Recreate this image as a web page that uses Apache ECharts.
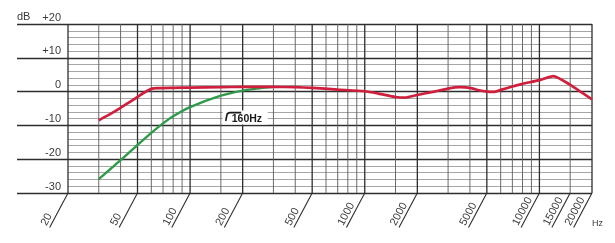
<!DOCTYPE html>
<html>
<head>
<meta charset="utf-8">
<script src="https://cdn.jsdelivr.net/npm/echarts@6/dist/echarts.min.js"></script>
<style>
html,body{margin:0;padding:0;background:#fff;}
#c{width:615px;height:243px;}
</style>
</head>
<body>
<div id="c"></div>
<script>
// ---- data ----
const gridFreqs = [20,30,40,50,60,70,80,90,100,150,200,300,400,500,600,700,800,900,1000,1500,2000,3000,4000,5000,6000,7000,8000,9000,10000,15000,20000];
const majorFreqs = [20,50,100,200,500,1000,2000,5000,10000,20000];
const labelFreqs = [20,50,100,200,500,1000,2000,5000,10000,15000,20000];
const yMin = -30, yMax = 20, yStep = 10;
const redFreq = [30,35,40,45,50,55,60,65,80,100,150,200,300,400,500,700,1000,1200,1500,1700,2000,2500,3000,3500,4000,4500,5000,5500,6000,7000,8000,10000,12000,15000,20000];
const redDb   = [-8.5,-6.6,-4.8,-3.1,-1.6,-0.2,0.8,1.0,1.1,1.2,1.3,1.4,1.4,1.3,1.1,0.6,0.1,-0.6,-1.6,-1.8,-1.0,0.0,0.9,1.3,1.1,0.4,0.0,-0.1,0.5,1.5,2.3,3.4,4.6,2.0,-2.3];
const greenFreq = [30,35,40,45,50,60,70,80,100,150,200,250,300];
const greenDb   = [-25.9,-22.9,-20.3,-17.9,-15.8,-12.2,-9.4,-7.3,-4.6,-1.2,0.3,1.0,1.4];
const annotFreq = 160, annotDb = -8.7, annotText = '160Hz';
const yName = 'dB', xName = 'Hz';

const FONT = '"Liberation Sans", Arial, Helvetica, sans-serif';
const MAJ = '#2e2e2e', MIN_V = '#5a5a5a', MIN_H = '#a6a6a6';
const SLOPE = 62 * Math.PI / 180;

const chart = echarts.init(document.getElementById('c'), null, {renderer: 'canvas'});

const zip = (a, b) => a.map((v, i) => [v, b[i]]);

chart.setOption({
  backgroundColor: '#fff',
  animation: false,
  grid: {left: 68, right: 23, top: 24, bottom: 50, containLabel: false, outerBoundsMode: 'none'},
  xAxis: {
    type: 'log', logBase: 10, min: 20, max: 20000,
    axisLine: {show: false}, axisTick: {show: false}, axisLabel: {show: false},
    splitLine: {show: false}, minorSplitLine: {show: false}
  },
  yAxis: {
    type: 'value', min: yMin, max: yMax, interval: yStep,
    axisLine: {show: false},
    axisTick: {show: true, inside: false, length: 51, lineStyle: {color: MAJ, width: 1.3}},
    axisLabel: {
      show: true, margin: 7, color: '#3a3a3a', fontFamily: FONT, fontSize: 11,
      verticalAlign: 'bottom', padding: [0, 0, 1, 0],
      formatter: v => (v > 0 ? '+' + v : String(v))
    },
    splitLine: {show: true, lineStyle: {color: MAJ, width: 1.3}},
    minorTick: {show: false, splitNumber: 5},
    minorSplitLine: {show: true, lineStyle: {color: MIN_H, width: 1}}
  },
  series: [
    {
      type: 'custom', name: 'vgrid', silent: true, z: 1,
      data: gridFreqs.map(f => [f, majorFreqs.indexOf(f) >= 0 ? 1 : 0]),
      renderItem: (params, api) => {
        const f = api.value(0), major = api.value(1) === 1;
        const p1 = api.coord([f, yMax]), p2 = api.coord([f, yMin]);
        return {type: 'line', shape: {x1: p1[0], y1: p1[1], x2: p2[0], y2: p2[1]},
          style: {stroke: major ? MAJ : MIN_V, lineWidth: major ? 1.3 : 0.9}};
      }
    },
    {
      type: 'custom', name: 'xlabels', silent: true, clip: false, z: 1,
      data: labelFreqs.map(f => [f, yMin]),
      renderItem: (params, api) => {
        const p = api.coord([api.value(0), api.value(1)]);
        const dy = 34.5, dx = dy / Math.tan(SLOPE);
        const bx = p[0] - dx, by = p[1] + dy;
        return {type: 'group', children: [
          {type: 'line', shape: {x1: p[0], y1: p[1], x2: bx, y2: by},
            style: {stroke: MAJ, lineWidth: 1.1}},
          {type: 'text', x: bx - 1, y: by, rotation: SLOPE,
            style: {text: String(labelFreqs[params.dataIndex]), fill: '#3a3a3a',
              font: '11px ' + FONT, align: 'left', verticalAlign: 'bottom',
              textAlign: 'left', textVerticalAlign: 'bottom'}}
        ]};
      }
    },
    {
      type: 'line', name: 'green', data: zip(greenFreq, greenDb), showSymbol: false,
      smooth: 0.3, z: 3, lineStyle: {color: '#2e9a4a', width: 2.4}
    },
    {
      type: 'line', name: 'red', data: zip(redFreq, redDb), showSymbol: false,
      smooth: 0.2, z: 4, lineStyle: {color: '#cf1f3d', width: 2.7}
    },
    {
      type: 'custom', name: 'annot', silent: true, clip: false, z: 5,
      data: [[annotFreq, annotDb]],
      renderItem: (params, api) => {
        const p = api.coord([api.value(0), api.value(1)]);
        const x = p[0], y = p[1];
        return {type: 'group', children: [
          {type: 'rect', shape: {x: x - 3, y: y - 10.5, width: 45, height: 14}, style: {fill: '#fff'}},
          {type: 'path', shape: {pathData: `M${x} ${y} L${x + 1.2} ${y - 6.2} Q${x + 1.8} ${y - 8.4} ${x + 4.2} ${y - 8.4} L${x + 15.5} ${y - 8.4}`},
            style: {stroke: '#1a1a1a', lineWidth: 1.6, fill: null}},
          {type: 'text', x: x + 6, y: y + 4,
            style: {text: annotText, fill: '#1a1a1a', font: 'bold 10.5px ' + FONT,
              align: 'left', verticalAlign: 'bottom', textAlign: 'left', textVerticalAlign: 'bottom'}}
        ]};
      }
    }
  ]
});

// axis names
const pxTop = chart.convertToPixel({yAxisIndex: 0}, yMax);
const pxRight = chart.convertToPixel({xAxisIndex: 0}, 20000);
const pxBottom = chart.convertToPixel({yAxisIndex: 0}, yMin);
chart.setOption({
  graphic: [
    {type: 'text', x: 17, y: pxTop - 2, style: {text: yName, fill: '#3a3a3a', font: '11px ' + FONT, align: 'left', verticalAlign: 'bottom'}},
    {type: 'text', x: pxRight, y: pxBottom + 35, style: {text: xName, fill: '#3a3a3a', font: '9px ' + FONT, align: 'left', verticalAlign: 'bottom'}}
  ]
});
</script>
</body>
</html>
